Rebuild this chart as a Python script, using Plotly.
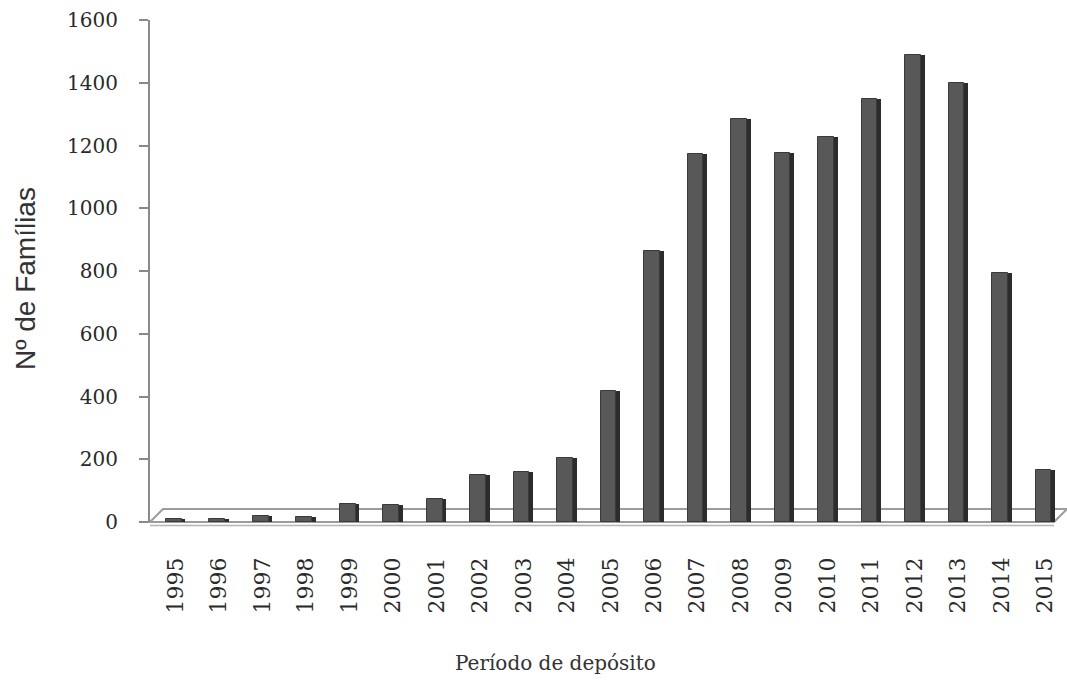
import plotly.graph_objects as go

# Deposit period (year) and number of families deposited
anos = ["1995", "1996", "1997", "1998", "1999", "2000", "2001", "2002", "2003",
        "2004", "2005", "2006", "2007", "2008", "2009", "2010", "2011", "2012",
        "2013", "2014", "2015"]
familias = [8, 8, 20, 15, 58, 55, 72, 150, 158, 205, 417, 863, 1172, 1283,
            1175, 1226, 1347, 1490, 1400, 793, 166]
y_ticks = [0, 200, 400, 600, 800, 1000, 1200, 1400, 1600]

SERIF = "DejaVu Serif"
SANS = "Liberation Sans"
TEXT = "#2a2a2a"

fig = go.Figure()

# front face of each column
fig.add_trace(go.Bar(
    x=anos, y=familias, width=0.36, offset=-0.22,
    marker=dict(color="#585858", line=dict(color="#3a3a3a", width=1)),
    hoverinfo="x+y", showlegend=False,
))
# darker right-hand side face for a pseudo-3D look
fig.add_trace(go.Bar(
    x=anos, y=familias, width=0.09, offset=0.14,
    marker=dict(color="#2c2c2c", line=dict(width=0)),
    hoverinfo="skip", showlegend=False,
))

# floor slab under the columns
floor_dx = 13 / 917
floor_dy = 13 / 502
fig.add_shape(
    type="path", xref="paper", yref="paper", layer="below",
    path=(f"M 0,0 L {floor_dx},{floor_dy} L 1,{floor_dy} "
          f"L {1 - floor_dx},0 Z"),
    line=dict(color="#9c9c9c", width=2), fillcolor="white",
)
fig.add_shape(
    type="line", xref="paper", yref="paper", layer="below",
    x0=0, x1=1 - floor_dx, y0=-0.007, y1=-0.007,
    line=dict(color="#b5b5b5", width=1.5),
)

fig.add_annotation(
    text="Nº de Famílias", xref="paper", yref="paper",
    x=-125 / 917, y=(522 - 279) / 502, textangle=-90, showarrow=False,
    font=dict(family=SANS, size=28, color="#333333"),
    xanchor="center", yanchor="middle",
)
fig.add_annotation(
    text="Período de depósito", xref="paper", yref="paper",
    x=(555 - 150) / 917, y=-(663 - 522) / 502, showarrow=False,
    font=dict(family=SERIF, size=20, color="#333333"),
    xanchor="center", yanchor="middle",
)

fig.update_layout(
    width=1067, height=685, autosize=False,
    margin=dict(l=150, r=0, t=20, b=163),
    plot_bgcolor="white", paper_bgcolor="white",
    barmode="overlay", bargap=0,
    xaxis=dict(
        type="category", range=[-0.586, 20.5],
        tickangle=-90, ticks="", showline=False, showgrid=False,
        tickfont=dict(family=SERIF, size=22, color=TEXT),
        ticklabelstandoff=30,
    ),
    yaxis=dict(
        range=[0, 1600], tickvals=y_ticks, ticks="outside", ticklen=9,
        tickcolor="#8a8a8a", tickwidth=2,
        showline=True, linecolor="#8a8a8a", linewidth=2,
        showgrid=False, zeroline=False,
        tickfont=dict(family=SERIF, size=20, color=TEXT),
        ticklabelstandoff=17,
    ),
)

fig.write_html("out.html")
